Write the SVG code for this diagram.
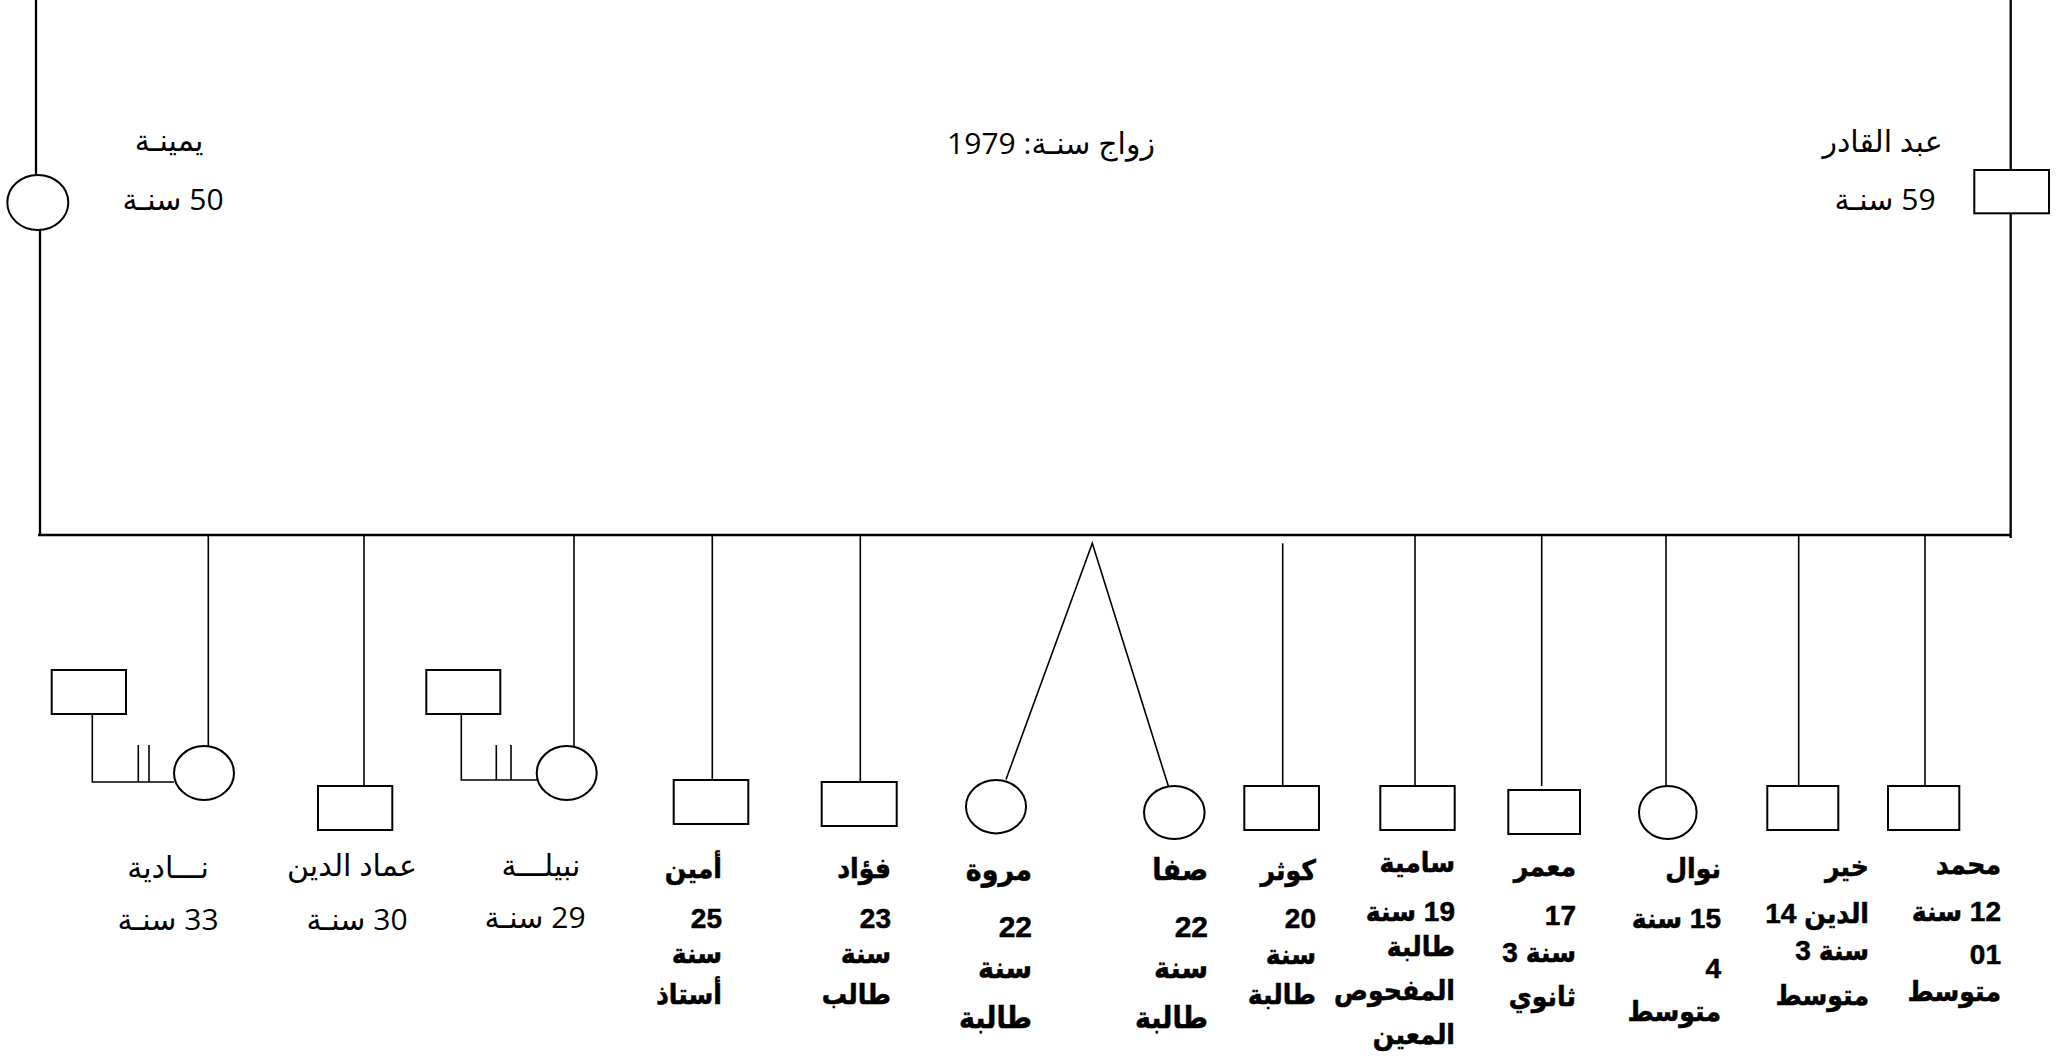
<svg xmlns="http://www.w3.org/2000/svg" width="2066" height="1062" viewBox="0 0 2066 1062">
  <style>
    .frame { stroke: #000; stroke-width: 2.3; fill: none; }
    .link { stroke: #000; stroke-width: 1.6; fill: none; }
    .shape { stroke: #000; stroke-width: 2; fill: #fff; }
    .reg { font-family: "Open Sans", "DejaVu Sans", sans-serif; font-size: 30px; fill: #000; text-anchor: middle; direction: rtl; }
    .bold { font-family: "Liberation Sans", "DejaVu Sans Condensed", "DejaVu Sans", sans-serif; font-size: 28px; font-weight: bold; fill: #000; stroke: #000; stroke-width: 0.5; text-anchor: start; direction: rtl; }
    .big { font-size: 30px; }
  </style>
  <rect width="2066" height="1062" fill="#fff"/>

  <!-- lines of descent and marriage -->
  <g id="connectors">
    <line class="frame" x1="36" y1="0" x2="36" y2="175"/>
    <line class="frame" x1="40" y1="230" x2="40" y2="536"/>
    <line class="frame" x1="2010.7" y1="0" x2="2010.7" y2="170"/>
    <line class="frame" x1="2010.7" y1="213" x2="2010.7" y2="538"/>
    <line class="frame" x1="38" y1="535" x2="2011" y2="535"/>

    <line class="link" x1="208.3" y1="535" x2="208.3" y2="746"/>
    <line class="link" x1="364" y1="535" x2="364" y2="786"/>
    <line class="link" x1="574" y1="535" x2="574" y2="746"/>
    <line class="link" x1="712.3" y1="535" x2="712.3" y2="780"/>
    <line class="link" x1="860.3" y1="535" x2="860.3" y2="782"/>
    <polyline class="link" points="1006,779.5 1092.3,543.3 1168.3,786"/>
    <line class="link" x1="1282.7" y1="543.3" x2="1282.7" y2="786"/>
    <line class="link" x1="1415" y1="535" x2="1415" y2="786"/>
    <line class="link" x1="1541.7" y1="535" x2="1541.7" y2="786"/>
    <line class="link" x1="1666" y1="535" x2="1666" y2="786"/>
    <line class="link" x1="1798.7" y1="535" x2="1798.7" y2="786"/>
    <line class="link" x1="1925" y1="535" x2="1925" y2="786"/>

    <!-- divorced spouses -->
    <polyline class="link" points="92.3,714 92.3,782 174,782"/>
    <line class="link" x1="138.3" y1="745" x2="138.3" y2="782"/>
    <line class="link" x1="149" y1="745" x2="149" y2="782"/>
    <polyline class="link" points="461.3,714 461.3,780 537,780"/>
    <line class="link" x1="496.3" y1="745" x2="496.3" y2="780"/>
    <line class="link" x1="511" y1="745" x2="511" y2="780"/>
  </g>

  <g id="marriage">
    <text class="reg" x="1051" y="154">زواج سنـة: 1979</text>
  </g>

  <g id="yamina">
    <ellipse class="shape" cx="37.8" cy="202.5" rx="30.5" ry="27.5"/>
    <text class="reg" x="169" y="151">يمينـة</text>
    <text class="reg" x="173" y="210">50 سنـة</text>
  </g>

  <g id="abdelkader">
    <rect class="shape" x="1974.3" y="170" width="74.7" height="43.3"/>
    <text class="reg" x="1882.5" y="152">عبد القادر</text>
    <text class="reg" x="1885" y="210">59 سنـة</text>
  </g>

  <g id="nadia">
    <ellipse class="shape" cx="204" cy="773" rx="30" ry="27"/>
    <text class="reg" x="168" y="878">نـــادية</text>
    <text class="reg" x="168" y="930">33 سنـة</text>
  </g>
  <g id="nadia-spouse">
    <rect class="shape" x="51.7" y="670" width="74.3" height="44"/>
  </g>

  <g id="imad">
    <rect class="shape" x="318" y="786" width="74.3" height="44"/>
    <text class="reg" x="352" y="876">عماد الدين</text>
    <text class="reg" x="357" y="930">30 سنـة</text>
  </g>

  <g id="nabila">
    <ellipse class="shape" cx="566.7" cy="773" rx="30" ry="27"/>
    <text class="reg" x="541" y="876">نبيلـــة</text>
    <text class="reg" x="535" y="928">29 سنـة</text>
  </g>
  <g id="nabila-spouse">
    <rect class="shape" x="426.3" y="670" width="74" height="44"/>
  </g>

  <g id="amine">
    <rect class="shape" x="673.7" y="780" width="74.6" height="44"/>
    <text class="bold" x="722" y="878">أمين</text>
    <text class="bold" x="722" y="928">25</text>
    <text class="bold" x="722" y="963">سنة</text>
    <text class="bold" x="722" y="1004">أستاذ</text>
  </g>

  <g id="fouad">
    <rect class="shape" x="821.7" y="782" width="75" height="44"/>
    <text class="bold" x="891" y="878">فؤاد</text>
    <text class="bold" x="891" y="928">23</text>
    <text class="bold" x="891" y="963">سنة</text>
    <text class="bold" x="891" y="1004">طالب</text>
  </g>

  <g id="marwa">
    <ellipse class="shape" cx="996" cy="806.7" rx="30" ry="26.7"/>
    <text class="bold big" x="1032" y="880">مروة</text>
    <text class="bold big" x="1032" y="937">22</text>
    <text class="bold big" x="1032" y="978">سنة</text>
    <text class="bold big" x="1032" y="1028">طالبة</text>
  </g>

  <g id="safa">
    <ellipse class="shape" cx="1174.3" cy="812.5" rx="30.3" ry="26.5"/>
    <text class="bold big" x="1208" y="880">صفا</text>
    <text class="bold big" x="1208" y="937">22</text>
    <text class="bold big" x="1208" y="978">سنة</text>
    <text class="bold big" x="1208" y="1028">طالبة</text>
  </g>

  <g id="kawthar">
    <rect class="shape" x="1244.3" y="786" width="74.7" height="44"/>
    <text class="bold" x="1316" y="880">كوثر</text>
    <text class="bold" x="1316" y="928">20</text>
    <text class="bold" x="1316" y="964">سنة</text>
    <text class="bold" x="1316" y="1004">طالبة</text>
  </g>

  <g id="samia">
    <rect class="shape" x="1380.3" y="786" width="74.4" height="44"/>
    <text class="bold" x="1455" y="872">سامية</text>
    <text class="bold" x="1455" y="921">19 سنة</text>
    <text class="bold" x="1455" y="956">طالبة</text>
    <text class="bold" x="1455" y="1000">المفحوص</text>
    <text class="bold" x="1455" y="1044">المعين</text>
  </g>

  <g id="maamar">
    <rect class="shape" x="1508.3" y="790" width="71.7" height="44"/>
    <text class="bold" x="1576" y="876">معمر</text>
    <text class="bold" x="1576" y="925">17</text>
    <text class="bold" x="1576" y="962">سنة 3</text>
    <text class="bold" x="1576" y="1006">ثانوي</text>
  </g>

  <g id="nawal">
    <ellipse class="shape" cx="1667.8" cy="812.5" rx="28.8" ry="26.5"/>
    <text class="bold" x="1721" y="878">نوال</text>
    <text class="bold" x="1721" y="928">15 سنة</text>
    <text class="bold" x="1721" y="978">4</text>
    <text class="bold" x="1721" y="1021">متوسط</text>
  </g>

  <g id="khayreddine">
    <rect class="shape" x="1767.3" y="786" width="71" height="44"/>
    <text class="bold" x="1869" y="876">خير</text>
    <text class="bold" x="1869" y="923">الدين 14</text>
    <text class="bold" x="1869" y="960">سنة 3</text>
    <text class="bold" x="1869" y="1005">متوسط</text>
  </g>

  <g id="mohamed">
    <rect class="shape" x="1888" y="786" width="71.3" height="44"/>
    <text class="bold" x="2001" y="874">محمد</text>
    <text class="bold" x="2001" y="921">12 سنة</text>
    <text class="bold" x="2001" y="964">01</text>
    <text class="bold" x="2001" y="1001">متوسط</text>
  </g>
</svg>
